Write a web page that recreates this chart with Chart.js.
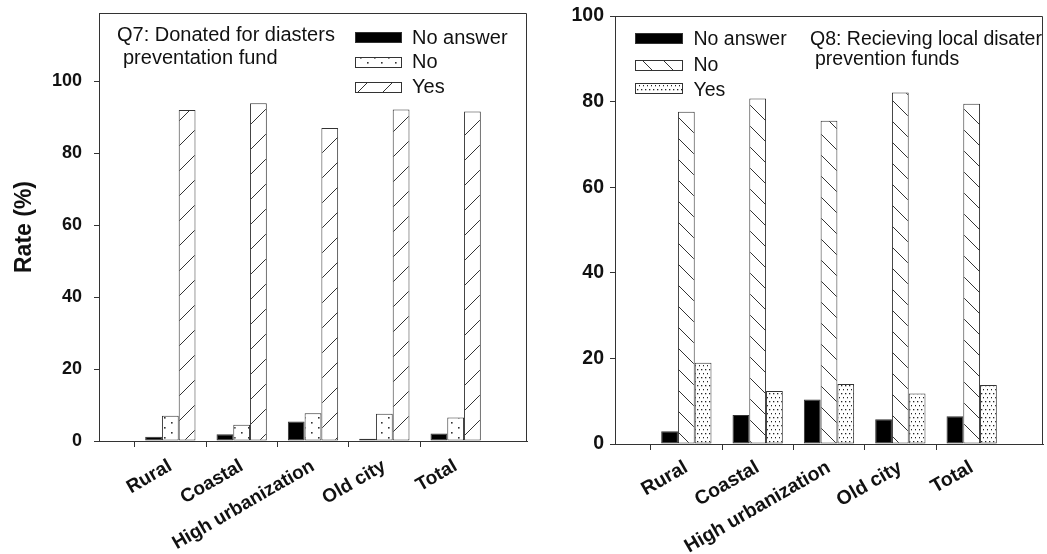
<!DOCTYPE html>
<html>
<head>
<meta charset="utf-8">
<title>Disaster prevention funds</title>
<script src="https://cdn.jsdelivr.net/npm/chart.js@4.4.1/dist/chart.umd.min.js"></script>
<style>
  html, body { margin: 0; padding: 0; background: #fff; }
  #wrap { position: relative; width: 1047px; height: 554px; overflow: hidden; }
  .panel { position: absolute; top: 0; height: 554px; }
</style>
</head>
<body>
<div id="wrap">
  <div class="panel" style="left:0;width:540px"><canvas id="q7"></canvas></div>
  <div class="panel" style="left:540px;width:507px"><canvas id="q8"></canvas></div>
</div>
<script>
// ---- data -------------------------------------------------------------
const categories = ['Rural', 'Coastal', 'High urbanization', 'Old city', 'Total'];
const seriesNames = ['No answer', 'No', 'Yes'];

// Q7: donated for disaster prevention fund (%)
const q7NoAnswer = [1.2, 1.9, 5.4, 0.6, 2.1];
const q7No       = [7.0, 4.5, 7.7, 7.6, 6.5];
const q7Yes      = [92.0, 93.9, 87.0, 92.2, 91.6];

// Q8: receiving local disaster prevention funds (%)
const q8NoAnswer = [3.0, 6.8, 10.4, 5.8, 6.5];
const q8No       = [77.6, 80.7, 75.5, 82.1, 79.5];
const q8Yes      = [19.0, 12.4, 14.0, 11.8, 13.8];

const yTicks = [0, 20, 40, 60, 80, 100];

// ---- helpers ----------------------------------------------------------
const FONT = "'Liberation Sans', Arial, Helvetica, sans-serif";
const INK = '#111';
const LINE = '#333';

// one empty slot either side of the five groups
const paddedLabels = [''].concat(categories, ['']);
const pad = arr => [null].concat(arr, [null]);

function tile(w, h, draw) {
  const c = document.createElement('canvas');
  c.width = w; c.height = h;
  const g = c.getContext('2d');
  g.fillStyle = '#fff';
  g.fillRect(0, 0, w, h);
  g.strokeStyle = LINE;
  g.fillStyle = LINE;
  g.lineWidth = 1;
  draw(g, w, h);
  return document.createElement('canvas').getContext('2d').createPattern(c, 'repeat');
}

const sparseDots = tile(14, 10, g => {
  g.fillRect(3, 2, 1.6, 1.6);
  g.fillRect(10, 7, 1.6, 1.6);
});
const denseDots = tile(4, 8, g => {
  g.fillStyle = '#222';
  g.fillRect(1, 1, 1.3, 1.3);
  g.fillRect(3, 5, 1.3, 1.3);
});
const forwardHatch = tile(25, 25, g => {
  g.beginPath();
  g.moveTo(-2, 27); g.lineTo(27, -2);
  g.stroke();
});
const backHatch = tile(21, 21, g => {
  g.beginPath();
  g.moveTo(-2, -2); g.lineTo(23, 23);
  g.stroke();
});

function makeDatasets(values, fills) {
  return values.map((v, i) => ({
    label: seriesNames[i],
    data: pad(v),
    backgroundColor: fills[i],
    borderColor: LINE,
    borderWidth: 1,
    borderSkipped: false,
    categoryPercentage: 0.705,
    barPercentage: 1.0
  }));
}

// frame, in-plot title and legend
function overlay(spec) {
  return {
    id: 'overlay',
    afterDraw(chart) {
      const ctx = chart.ctx, a = chart.chartArea;
      ctx.save();
      ctx.strokeStyle = LINE;
      ctx.lineWidth = 1;
      ctx.beginPath();
      ctx.moveTo(a.left, Math.round(a.top) + 0.5);
      ctx.lineTo(Math.round(a.right) - 0.5, Math.round(a.top) + 0.5);
      ctx.lineTo(Math.round(a.right) - 0.5, a.bottom);
      ctx.stroke();

      ctx.font = spec.fontSize + 'px ' + FONT;
      ctx.fillStyle = INK;
      ctx.textBaseline = 'alphabetic';
      ctx.textAlign = 'left';
      spec.title.forEach(t => ctx.fillText(t.text, t.x, t.y));

      chart.data.datasets.forEach((ds, i) => {
        const y = spec.swY[i];
        ctx.fillStyle = ds.backgroundColor;
        ctx.fillRect(spec.swX, y, spec.swW, spec.swH);
        ctx.strokeStyle = LINE;
        ctx.strokeRect(spec.swX + 0.5, y + 0.5, spec.swW, spec.swH);
        ctx.fillStyle = INK;
        ctx.fillText(ds.label, spec.txtX, spec.txtY[i]);
      });
      ctx.restore();
    }
  };
}

function makeChart(id, datasets, o) {
  return new Chart(document.getElementById(id), {
    type: 'bar',
    data: { labels: paddedLabels, datasets },
    options: {
      responsive: true,
      maintainAspectRatio: false,
      animation: false,
      layout: { padding: { top: o.padTop, right: o.padRight, left: 0, bottom: 0 } },
      plugins: { legend: { display: false }, tooltip: { enabled: false }, title: { display: false } },
      scales: {
        x: {
          type: 'category',
          offset: false,
          afterFit: s => {
            s.height = o.xHeight;
            s.paddingLeft = 0;
            s.paddingRight = 0;
          },
          border: { display: true, color: LINE, width: 1 },
          grid: {
            drawOnChartArea: false,
            drawTicks: true,
            tickLength: 6,
            tickColor: c => (c.index === 0 || c.index === paddedLabels.length - 1) ? 'rgba(0,0,0,0)' : LINE
          },
          ticks: {
            autoSkip: false,
            minRotation: 30,
            maxRotation: 30,
            padding: o.xTickPad,
            color: INK,
            font: { family: FONT, size: o.xTickSize, weight: 'bold' }
          }
        },
        y: {
          min: 0,
          max: o.yMax,
          afterBuildTicks: s => { s.ticks = yTicks.map(v => ({ value: v })); },
          afterFit: s => {
            s.width = o.yWidth;
            s.paddingTop = 0;
            s.paddingBottom = 0;
          },
          border: { display: true, color: LINE, width: 1 },
          grid: { drawOnChartArea: false, drawTicks: true, tickLength: 5, tickColor: LINE },
          ticks: {
            padding: o.yTickPad,
            color: INK,
            font: { family: FONT, size: o.yTickSize, weight: 'bold' }
          },
          title: {
            display: !!o.yTitle,
            text: o.yTitle || '',
            color: INK,
            font: { family: FONT, size: 23, weight: 'bold' },
            padding: { top: 11, bottom: 0 }
          }
        }
      }
    },
    plugins: [overlay(o.overlay)]
  });
}

// ---- Q7 panel -----------------------------------------------------------
makeChart('q7',
  makeDatasets([q7NoAnswer, q7No, q7Yes], ['#000', sparseDots, forwardHatch]),
  {
    padTop: 13, padRight: 13, xHeight: 113, yWidth: 99, yMax: 119,
    yTickPad: 12, yTickSize: 18, yTitle: 'Rate (%)',
    xTickPad: 8, xTickSize: 19,
    overlay: {
      fontSize: 20,
      title: [
        { text: 'Q7: Donated for diasters', x: 117, y: 41 },
        { text: 'preventation fund', x: 123, y: 63.5 }
      ],
      swX: 355, swW: 46, swH: 10, swY: [32, 57, 82],
      txtX: 412, txtY: [43.5, 68, 93]
    }
  });

// ---- Q8 panel -----------------------------------------------------------
makeChart('q8',
  makeDatasets([q8NoAnswer, q8No, q8Yes], ['#000', backHatch, denseDots]),
  {
    padTop: 16, padRight: 4, xHeight: 110, yWidth: 75, yMax: 100,
    yTickPad: 6, yTickSize: 19.5, yTitle: '',
    xTickPad: 6, xTickSize: 19.5,
    overlay: {
      fontSize: 19.5,
      title: [
        { text: 'Q8: Recieving local disater', x: 270, y: 45 },
        { text: 'prevention funds', x: 275, y: 65 }
      ],
      swX: 95, swW: 47, swH: 10, swY: [33, 60, 83],
      txtX: 153.5, txtY: [45, 71, 96]
    }
  });
</script>
</body>
</html>
